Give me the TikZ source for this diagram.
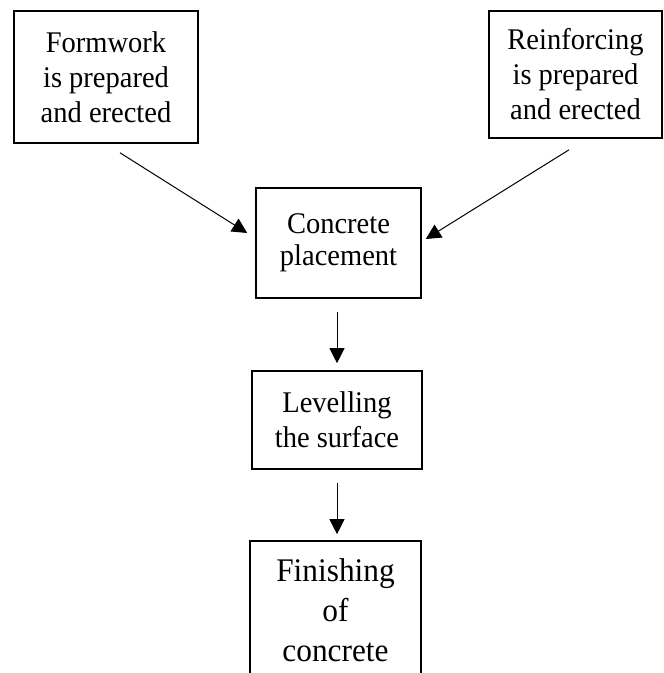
\documentclass[tikz,border=0pt]{standalone}
\usepackage{fontspec}
\setmainfont{Liberation Serif}
\newfontfamily\tallserif{Liberation Serif}[FakeStretch=0.95]
\usetikzlibrary{arrows.meta}
\begin{document}
\begin{tikzpicture}[x=1pt,y=1pt,
  box/.style={draw, line width=1.6pt, rectangle, align=center, inner sep=0pt,
    font=\tallserif\fontsize{30}{35}\selectfont},
  arr/.style={line width=1pt, -{Triangle[length=15pt,width=15pt]}}]
\useasboundingbox (0,0) rectangle (664,-673);
\clip (0,0) rectangle (664,-673);
\node[box, minimum width=184pt, minimum height=132pt] (form) at (106,-77)
  {Formwork\\is prepared\\and erected};
\node[box, minimum width=173pt, minimum height=127pt] (reinf) at (575.5,-74.5)
  {Reinforcing\\is prepared\\and erected};
\node[box, minimum width=165pt, minimum height=110pt,
  font=\tallserif\fontsize{30}{32}\selectfont] (conc) at (338.5,-243)
  {Concrete\\placement};
\node[box, minimum width=170pt, minimum height=98pt] (lev) at (337,-420)
  {Levelling\\the surface};
\node[box, minimum width=171pt, minimum height=138pt,
  font=\tallserif\fontsize{33}{40}\selectfont] (fin) at (335.5,-610)
  {Finishing\\of\\concrete};
\draw[arr] ([shift={(14,-9)}]form.south) -- ([shift={(-8,10)}]conc.west);
\draw[arr] ([shift={(-6.5,-11)}]reinf.south) -- ([shift={(4,4)}]conc.east);
\draw[arr] ([yshift=-13pt]lev.north |- conc.south) -- ([yshift=7pt]lev.north);
\draw[arr] ([yshift=-13pt]lev.south) -- ([yshift=6pt]lev.south |- fin.north);
\end{tikzpicture}
\end{document}
